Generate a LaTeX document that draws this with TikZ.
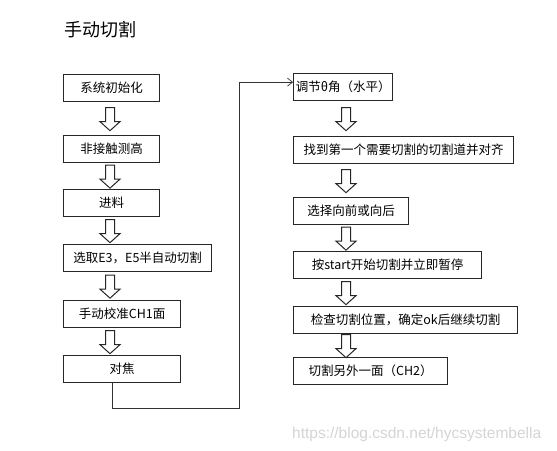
\documentclass[tikz,border=0pt]{standalone}
\usepackage{fontspec}
\setmainfont{Noto Sans CJK SC}
\newfontfamily\markfont{Liberation Sans}
\usetikzlibrary{calc,arrows.meta}
\begin{document}
\begin{tikzpicture}
    [x=1pt,y=-1pt,
     box/.style={draw=black!85,line width=1.3pt,anchor=north west,minimum height=27pt,inner sep=0pt,font=\fontsize{12.5}{14}\selectfont},
     hollow/.style={draw=black!85,line width=1pt,fill=white,line join=miter},
     loopline/.style={draw=black!80,line width=0.7pt}]
    \useasboundingbox (0,0) rectangle (557,450);
    \node[anchor=base west,inner sep=0pt,font=\fontsize{18}{20}\selectfont] (title) at (64,36) {手动切割};
    \node[box,minimum width=96pt] (sys) at (63,74) {系统初始化};
    \node[box,minimum width=96pt] (meas) at (63,135) {非接触测高};
    \node[box,minimum width=96pt] (feed) at (63,189) {进料};
    \node[box,minimum width=148pt] (sel) at (63,244) {选取E3，E5半自动切割};
    \node[box,minimum width=117pt] (calib) at (63,300) {手动校准CH1面};
    \node[box,minimum width=117pt] (focus) at (63,355) {对焦};
    \node[box,minimum width=99pt] (theta) at (293,73) {调节θ角（水平）};
    \node[box,minimum width=220pt] (find) at (293,136) {找到第一个需要切割的切割道并对齐};
    \node[box,minimum width=115pt] (dir) at (293,197) {选择向前或向后};
    \node[box,minimum width=188pt] (start) at (293,251) {按start开始切割并立即暂停};
    \node[box,minimum width=224pt] (check) at (293,306) {检查切割位置，确定ok后继续切割};
    \node[box,minimum width=154pt] (other) at (293,357) {切割另外一面（CH2）};
    \node[anchor=base west,inner sep=0pt,text=black!17,font=\markfont\fontsize{15.5}{16}\selectfont] (mark) at (292,438) {https://blog.csdn.net/hycsystembella};
    \coordinate (bend) at (239,408);
    \foreach \from/\to/\dx in {sys/meas/47,meas/feed/47,feed/sel/47,sel/calib/47,calib/focus/47,
                               theta/find/53,find/dir/53,dir/start/53,start/check/53,check/other/53}
      \draw[hollow] ($(\from.south west)!.5!(\to.north west)+(\dx-4.5,-11)$) -- ++(0,14) -- ++(-5.5,0)
        -- ++(10,9) -- ++(10,-9) -- ++(-5.5,0) -- ++(0,-14) -- cycle;
    \draw[loopline,-{Straight Barb[length=5pt,width=8pt]}] ($(focus.south west)+(49,0)$) |- (bend) |- ($(theta.west)+(0,-5)$);
\end{tikzpicture}
\end{document}
